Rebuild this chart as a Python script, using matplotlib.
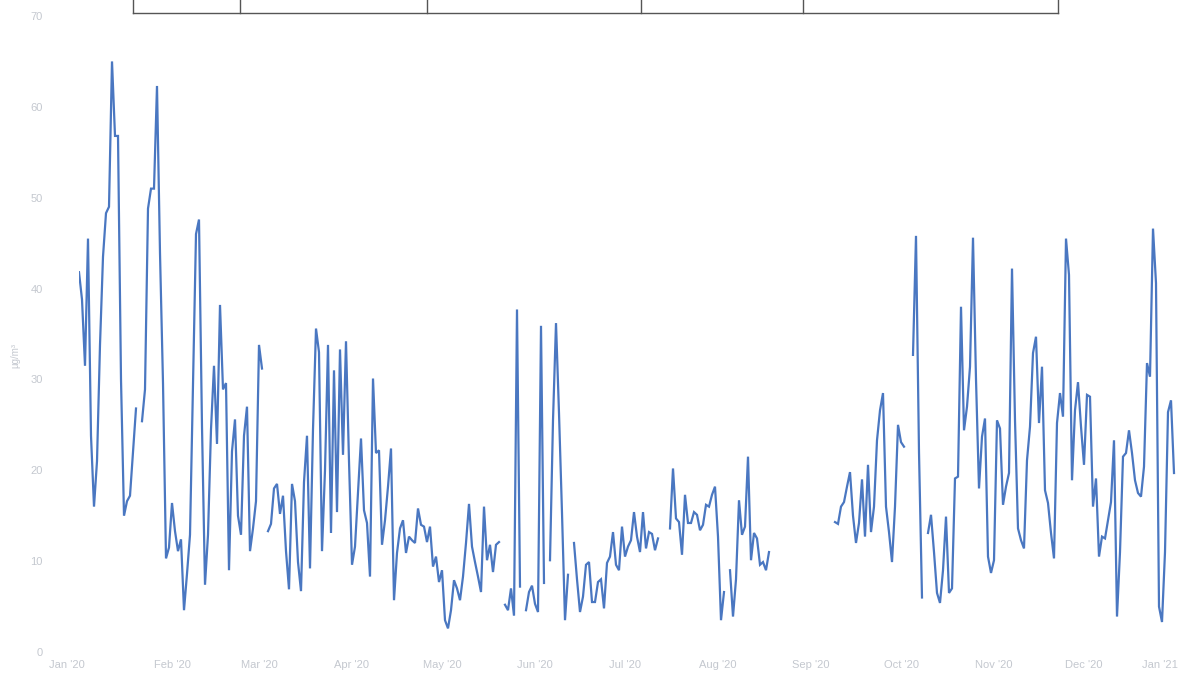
import numpy as np
import pandas as pd
import matplotlib
matplotlib.use("Agg")
import matplotlib.pyplot as plt
import matplotlib.dates as mdates
from matplotlib.transforms import ScaledTranslation

# daily PM values (µg/m³), None = no measurement
jan = [41.8, 38.8, 31.5, 45.5, 23.8, 16.0, 21.0, 33.8, 43.5, 48.3, 49.0, 65.0, 56.8, 56.8, 30.0, 15.0,
       16.6, 17.2, 22.0, 26.8, None, 25.4, 28.9, 48.8, 51.0, 51.0, 62.3, 43.9, 29.6, 10.3, 11.5]
feb = [16.4, 13.3, 11.1, 12.4, 4.6, 8.6, 12.9, 29.6, 46.0, 47.6, 24.8, 7.4, 12.9, 24.5, 31.5, 22.9,
       38.2, 28.9, 29.6, 9.0, 22.1, 25.6, 15.0, 12.9, 23.8, 27.0, 11.1, 13.6, 16.6]
mar = [33.8, 31.2, None, 13.3, 14.1, 18.0, 18.5, 15.2, 17.2, 11.1, 6.9, 18.5, 16.6, 9.9, 6.7, 18.7,
       23.8, 9.2, 24.5, 35.6, 33.0, 11.1, 20.0, 33.8, 13.1, 31.0, 15.4, 33.3, 21.7, 34.2, 21.0]
apr = [9.6, 11.6, 17.5, 23.5, 15.6, 14.2, 8.3, 30.1, 21.9, 22.2, 11.8, 14.5, 18.2, 22.4, 5.7, 10.9,
       13.6, 14.5, 10.9, 12.7, 12.3, 12.0, 15.8, 14.0, 13.8, 12.1, 13.8, 9.4, 10.5, 7.7]
may = [9.0, 3.5, 2.6, 4.6, 7.9, 7.0, 5.7, 8.3, 12.0, 16.3, 11.6, 9.9, 8.3, 6.6, 16.0, 10.1,
       11.8, 8.8, 11.8, 12.1, None, 5.2, 4.6, 7.0, 4.0, 37.7, 7.2, None, 4.6, 6.6, 7.3]
jun = [5.3, 4.4, 35.9, 7.6, None, 10.1, 25.5, 36.2, 26.3, 15.3, 3.5, 8.5, None, 12.0, 8.0, 4.4,
       6.1, 9.6, 9.9, 5.5, 5.5, 7.7, 8.0, 4.8, 9.8, 10.5, 13.2, 9.6, 9.0, 13.8]
jul = [10.5, 11.6, 12.3, 15.4, 12.7, 11.0, 15.4, 11.4, 13.2, 13.0, 11.2, 12.5, None, None, None, 13.6,
       20.2, 14.7, 14.3, 10.7, 17.3, 14.2, 14.2, 15.4, 15.1, 13.4, 14.0, 16.2, 16.0, 17.3, 18.2]
aug = [12.7, 3.5, 6.6, None, 9.0, 3.9, 8.0, 16.7, 12.9, 13.8, 21.5, 10.1, 13.1, 12.5, 9.6, 9.9,
       9.0, 11.0, None, None, None, None, None, None, None, None, None, None, None, None, None]
sep = [None, None, None, None, None, None, None, None, 14.3, 14.1, 16.0, 16.5, 18.2, 19.8, 15.0, 12.0,
       14.2, 19.0, 12.7, 20.6, 13.2, 16.0, 23.3, 26.6, 28.5, 16.0, 13.2, 9.9, 16.0, 25.0]
oct_ = [23.1, 22.6, None, None, 32.7, 45.8, 22.0, 6.0, None, 13.1, 15.1, 11.0, 6.5, 5.4, 9.0, 14.9,
        6.5, 7.0, 19.1, 19.3, 38.0, 24.4, 27.0, 31.4, 45.6, 30.0, 18.0, 23.7, 25.7, 10.5, 8.7]
nov = [10.1, 25.5, 24.6, 16.2, 18.2, 19.7, 42.2, 25.5, 13.6, 12.3, 11.4, 21.1, 24.8, 32.9, 34.7, 25.2,
       31.4, 17.8, 16.4, 13.1, 10.3, 25.2, 28.5, 25.9, 45.5, 41.5, 18.9, 26.6, 29.7, 24.8]
dec = [20.6, 28.3, 28.1, 16.0, 19.1, 10.5, 12.7, 12.5, 14.5, 16.5, 23.3, 3.9, 11.0, 21.5, 21.9, 24.4,
       21.9, 18.9, 17.5, 17.1, 20.4, 31.8, 30.3, 46.6, 40.6, 5.0, 3.3, 11.0, 26.4, 27.7, 19.7]

month_labels = ["Jan '20", "Feb '20", "Mar '20", "Apr '20", "May '20", "Jun '20", "Jul '20",
                "Aug '20", "Sep '20", "Oct '20", "Nov '20", "Dec '20", "Jan '21"]
y_ticks = [0, 10, 20, 30, 40, 50, 60, 70]

values = [v for m in (jan, feb, mar, apr, may, jun, jul, aug, sep, oct_, nov, dec) for v in m]
values = np.array([np.nan if v is None else v for v in values], dtype=float)
dates = pd.date_range("2020-01-01", periods=len(values), freq="D")

plt.rcParams['font.family'] = ['Liberation Sans', 'DejaVu Sans']

fig = plt.figure(figsize=(11.85, 6.74), dpi=100)
ax = fig.add_axes([79 / 1185, 1 - 652 / 674, 1098 / 1185, 636 / 674])

ax.plot(dates, values, color='#4a77c1', linewidth=1.6, solid_joinstyle='miter')

ax.set_ylim(0, 70)
ax.set_xlim(pd.Timestamp("2020-01-01"), pd.Timestamp("2021-01-01"))
ax.set_yticks(y_ticks)
ax.set_yticklabels([str(t) for t in y_ticks])
month_ticks = pd.date_range("2020-01-01", "2021-01-01", freq="MS")
ax.set_xticks(month_ticks)
ax.set_xticklabels(month_labels)

for s in ax.spines.values():
    s.set_visible(False)
ax.tick_params(axis='both', length=0, colors='#c4c8cf', labelsize=8)
ax.tick_params(axis='y', pad=26)
ax.tick_params(axis='x', pad=6)

# first and last labels sit inside the plot edge
labels = ax.get_xticklabels()
labels[0].set_transform(labels[0].get_transform() + ScaledTranslation(-12 / 100, 0, fig.dpi_scale_trans))
labels[-1].set_transform(labels[-1].get_transform() + ScaledTranslation(-17 / 100, 0, fig.dpi_scale_trans))

fig.text(15 / 1185, 1 - 355 / 674, "µg/m³", rotation=90, ha='center', va='center',
         fontsize=7, color='#c4c8cf')

# bottom edge of the table above the chart (cut off in the scan)
table_cols = [133, 240, 427, 641, 803, 1058]
fig.add_artist(plt.Line2D([133 / 1185, 1058 / 1185], [1 - 13 / 674, 1 - 13 / 674],
                          color='#555555', linewidth=1, transform=fig.transFigure))
for c in table_cols:
    fig.add_artist(plt.Line2D([c / 1185, c / 1185], [1 - 13 / 674, 1.0],
                              color='#555555', linewidth=1, transform=fig.transFigure))

fig.savefig("out.png", dpi=100, facecolor='white')
